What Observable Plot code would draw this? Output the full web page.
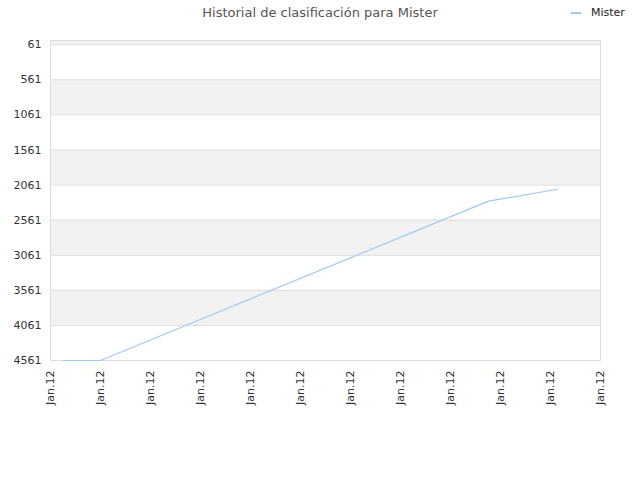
<!DOCTYPE html>
<html>
<head>
<meta charset="utf-8">
<script src="https://cdn.jsdelivr.net/npm/d3@7"></script>
<script src="https://cdn.jsdelivr.net/npm/@observablehq/plot@0.6"></script>
<style>
  body { margin: 0; background: #fff; font-family: "DejaVu Sans", sans-serif; }
  #wrap { position: relative; width: 640px; height: 480px; }
  #title { position: absolute; top: 5px; left: 0; width: 640px; text-align: center; font-size: 13px; color: #555; }
  #legend { position: absolute; top: 6px; left: 571px; font-size: 11px; color: #222; display: flex; align-items: center; }
  #legend span.sw { display: inline-block; width: 10px; height: 2px; background: #9ecbf5; margin-right: 10px; }
</style>
</head>
<body>
<div id="wrap">
  <div id="title">Historial de clasificación para Mister</div>
  <div id="legend"><span class="sw"></span>Mister</div>
  <div id="chart"></div>
</div>
<script>
const seriesName = "Mister";
const dates = [
  new Date(Date.UTC(2012, 0, 1, 6, 0)),
  new Date(Date.UTC(2012, 0, 2, 0, 0)),
  new Date(Date.UTC(2012, 0, 9, 18, 15)),
  new Date(Date.UTC(2012, 0, 11, 3, 20))
];
const ranks = [4561, 4561, 2290, 2120];
const yTicks = [61, 561, 1061, 1561, 2061, 2561, 3061, 3561, 4061, 4561];
const xTicks = d3.utcDay.range(new Date(Date.UTC(2012, 0, 1)), new Date(Date.UTC(2012, 0, 13)));
const yDomain = [0, 4561];

const data = dates.map((d, i) => ({date: d, rank: ranks[i]}));
const bounds = [yDomain[0], ...yTicks];
const bands = bounds.slice(0, -1).map((v, i) => ({y1: v, y2: bounds[i + 1], gray: i % 2 === 0}));

const chart = Plot.plot({
  width: 640,
  height: 480,
  marginTop: 40,
  marginLeft: 50,
  marginRight: 40,
  marginBottom: 120,
  style: {fontFamily: "DejaVu Sans, sans-serif", fontSize: "11px", color: "#333", background: "transparent"},
  x: {type: "utc", domain: [xTicks[0], xTicks[xTicks.length - 1]], label: null},
  y: {domain: yDomain, reverse: true, label: null},
  marks: [
    Plot.rectY(bands.filter(b => b.gray), {y1: "y1", y2: "y2", fill: "#f2f2f2"}),
    Plot.ruleY(yTicks, {stroke: "#dddddd", strokeWidth: 1}),
    Plot.frame({stroke: "#dddddd"}),
    Plot.axisY({ticks: yTicks, tickFormat: d => String(d), tickSize: 0, tickPadding: 9, label: null}),
    Plot.axisX({ticks: xTicks, tickFormat: d3.utcFormat("%b.%y"), tickRotate: -90, tickSize: 0, tickPadding: 10, label: null}),
    Plot.line(data, {x: "date", y: "rank", stroke: "#9ecbf5", strokeWidth: 1.2})
  ]
});
document.getElementById("chart").appendChild(chart);
</script>
</body>
</html>
